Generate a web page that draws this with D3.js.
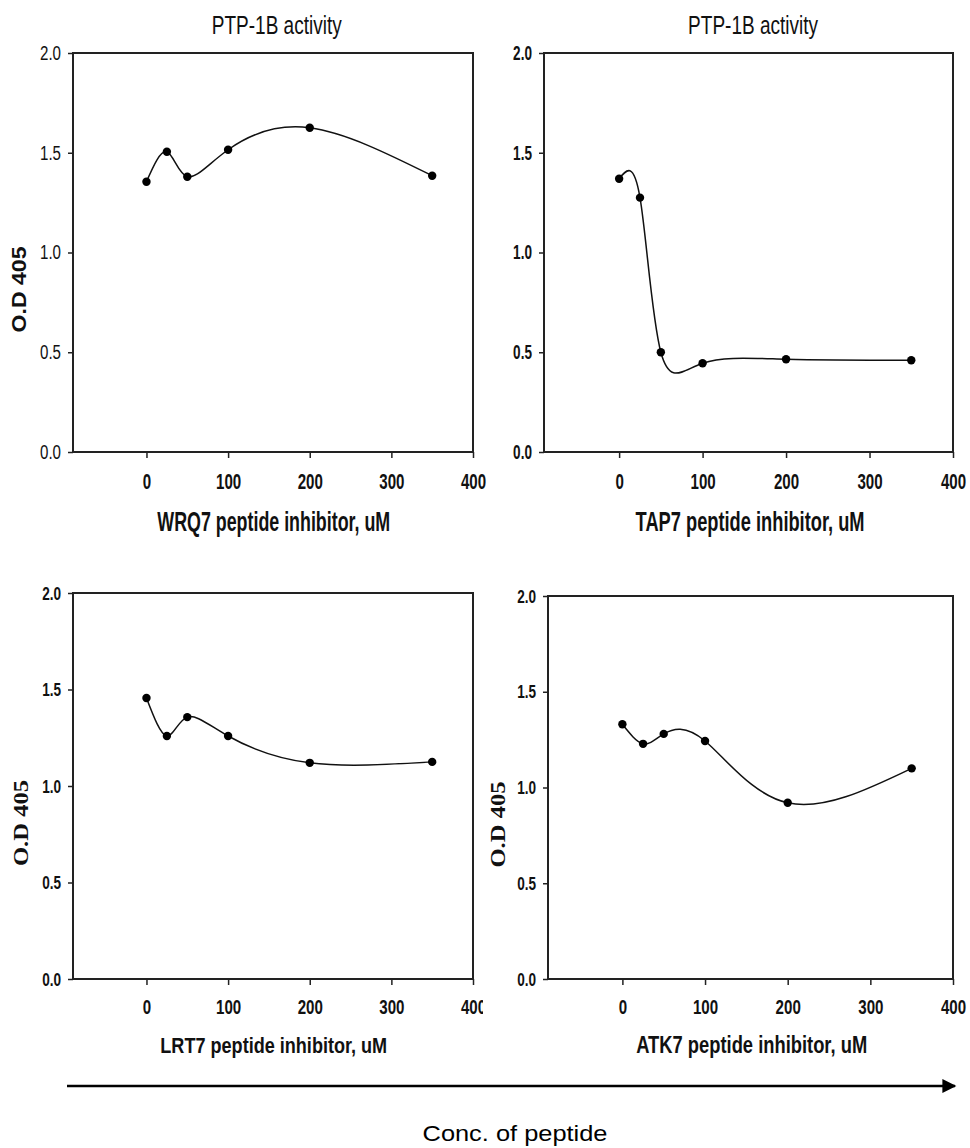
<!DOCTYPE html>
<html>
<head>
<meta charset="utf-8">
<script src="https://cdn.jsdelivr.net/npm/d3@7"></script>
<style>
body { margin: 0; background: #fff; }
svg { display: block; }
.narrow { font-family: "Liberation Sans", Arial, sans-serif; }
</style>
</head>
<body>
<div class="container"></div>
<script>
// data
const conc = [0, 25, 50, 100, 200, 350]
const wrq7 = [1.355, 1.505, 1.38, 1.515, 1.625, 1.385]
const tap7 = [1.37, 1.275, 0.50, 0.445, 0.465, 0.46]
const lrt7 = [1.456, 1.259, 1.357, 1.259, 1.12, 1.125]
const atk7 = [1.33, 1.228, 1.28, 1.243, 0.92, 1.10]
const xTicks = [0, 100, 200, 300, 400]
const yTicks = [0, 0.5, 1.0, 1.5, 2.0]
const panelTitle = "PTP-1B activity"
const yTitle = "O.D 405"
const xTitles = ["WRQ7 peptide inhibitor, uM", "TAP7 peptide inhibitor, uM",
                 "LRT7 peptide inhibitor, uM", "ATK7 peptide inhibitor, uM"]
const footer = "Conc. of peptide"

const w = 970
const h = 1148

const panels = [
    {vals: wrq7, label: xTitles[0], x0: 73, x1: 473, y0: 53, y1: 452, title: true, ylab: 19, ySans: true, yBold: false, tickSize: 22, yTickSize: 20, labSize: 27, labY: 531, labW: 233},
    {vals: tap7, label: xTitles[1], x0: 544, x1: 953, y0: 53, y1: 452, title: true, ylab: null, yBold: true, tickSize: 22, yTickSize: 20, labSize: 27, labY: 531, labW: 229},
    {vals: lrt7, label: xTitles[2], x0: 73, x1: 473, y0: 593, y1: 979, title: false, ylab: 21, yBold: true, tickSize: 20, yTickSize: 19, labSize: 23, labY: 1053, labW: 227, clip: true},
    {vals: atk7, label: xTitles[3], x0: 548, x1: 953, y0: 596, y1: 979, title: false, ylab: 498, yBold: true, tickSize: 20, yTickSize: 19, labSize: 23, labY: 1053, labW: 231}
]

// scale a text horizontally so it looks like a narrow face
const narrowTo = (node, width) => {
    const len = node.getComputedTextLength()
    const s = width / len
    const x = +(node.getAttribute("x") || 0)
    node.setAttribute("x", x / s)
    node.setAttribute("transform", "scale(" + s + ",1)")
}

const svg = d3.select(".container")
.append("svg")
.attr("width", w)
.attr("height", h)

const defs = svg.append("defs")
defs.append("clipPath")
.attr("id", "clipBL")
.append("rect")
.attr("x", 0).attr("y", 0).attr("width", 483).attr("height", h)

panels.forEach((p, i) => {
    const xScale = d3.scaleLinear().domain([-90, 400]).range([p.x0, p.x1])
    const yScale = d3.scaleLinear().domain([0, 2]).range([p.y1, p.y0])

    const g = svg.append("g")
    if (p.clip) g.attr("clip-path", "url(#clipBL)")

    // frame
    g.append("rect")
    .attr("x", p.x0)
    .attr("y", p.y0)
    .attr("width", p.x1 - p.x0)
    .attr("height", p.y1 - p.y0)
    .attr("fill", "none")
    .attr("stroke", "#222")
    .attr("stroke-width", 2)

    const xAxis = d3.axisBottom(xScale).tickValues(xTicks).tickSize(6).tickPadding(15).tickFormat(d3.format("d"))
    const yAxis = d3.axisLeft(yScale).tickValues(yTicks).tickSize(5).tickPadding(7).tickFormat(d3.format(".1f"))

    const gx = g.append("g")
    .attr("transform", "translate(0," + p.y1 + ")")
    .call(xAxis)
    const gy = g.append("g")
    .attr("transform", "translate(" + p.x0 + ",0)")
    .call(yAxis)

    ;[gx, gy].forEach(a => {
        a.select(".domain").remove()
        a.selectAll(".tick line").attr("stroke", "#222").attr("stroke-width", 1.5)
        a.selectAll(".tick text")
        .attr("class", "narrow")
        .attr("fill", "#111")
    })
    gx.selectAll(".tick text")
    .style("font-size", p.tickSize + "px")
    .style("font-weight", "bold")
    .each(function() { narrowTo(this, this.textContent.length * 8.4) })
    gy.selectAll(".tick text")
    .style("font-size", p.yTickSize + "px")
    .style("font-weight", p.yBold ? "bold" : "normal")
    .each(function() { narrowTo(this, this.textContent.length * (p.yBold ? 6.3 : 7)) })

    // spline through the points
    const pts = conc.map((c, k) => [c, p.vals[k]])
    const line = d3.line()
    .x(d => xScale(d[0]))
    .y(d => yScale(d[1]))
    .curve(d3.curveNatural)

    g.append("path")
    .datum(pts)
    .attr("d", line)
    .attr("fill", "none")
    .attr("stroke", "#111")
    .attr("stroke-width", 1.5)

    g.selectAll("circle.pt")
    .data(pts)
    .enter()
    .append("circle")
    .attr("class", "pt")
    .attr("cx", d => xScale(d[0]))
    .attr("cy", d => yScale(d[1]))
    .attr("r", 4.2)
    .attr("fill", "#000")

    // x axis title
    const cx = (xScale(0) + xScale(400)) / 2
    const lab = g.append("g")
    .attr("transform", "translate(" + (cx - 36) + "," + p.labY + ")")
    .append("text")
    .attr("class", "narrow")
    .style("text-anchor", "middle")
    .style("font-size", p.labSize + "px")
    .style("font-weight", "bold")
    .attr("fill", "#111")
    .text(p.label)
    narrowTo(lab.node(), p.labW)

    if (p.title) {
        const t = svg.append("g")
        .attr("transform", "translate(" + (cx - 33) + ",34)")
        .append("text")
        .attr("class", "narrow")
        .style("text-anchor", "middle")
        .style("font-size", "26px")
        .attr("fill", "#111")
        .text(panelTitle)
        narrowTo(t.node(), 130)
    }

    if (p.ylab !== null) {
        const yl = svg.append("g")
        .attr("transform", "translate(" + (p.ylab + 7) + "," + ((p.y0 + p.y1) / 2 + 37) + ") rotate(-90)")
        .append("text")
        .style("text-anchor", "middle")
        .style("font-family", p.ySans ? "'Liberation Sans', Arial, sans-serif" : "'Liberation Serif', 'DejaVu Serif', serif")
        .style("font-size", "20px")
        .style("font-weight", "bold")
        .attr("fill", "#111")
        .text(yTitle)
        narrowTo(yl.node(), 86)
    }
})

// concentration arrow
defs.append("marker")
.attr("id", "arrow")
.attr("viewBox", "0 0 10 10")
.attr("refX", 9)
.attr("refY", 5)
.attr("markerWidth", 16)
.attr("markerHeight", 14)
.attr("markerUnits", "userSpaceOnUse")
.attr("orient", "auto")
.append("path")
.attr("d", "M0,0 L10,5 L0,10 Z")
.attr("fill", "#000")

svg.append("line")
.attr("x1", 67)
.attr("x2", 955)
.attr("y1", 1086)
.attr("y2", 1086)
.attr("stroke", "#000")
.attr("stroke-width", 2.5)
.attr("marker-end", "url(#arrow)")

const foot = svg.append("g")
.attr("transform", "translate(515,1141)")
.append("text")
.style("text-anchor", "middle")
.style("font-family", "'Liberation Sans', Arial, sans-serif")
.style("font-size", "22px")
.attr("fill", "#000")
.text(footer)
narrowTo(foot.node(), 185)
</script>
</body>
</html>
